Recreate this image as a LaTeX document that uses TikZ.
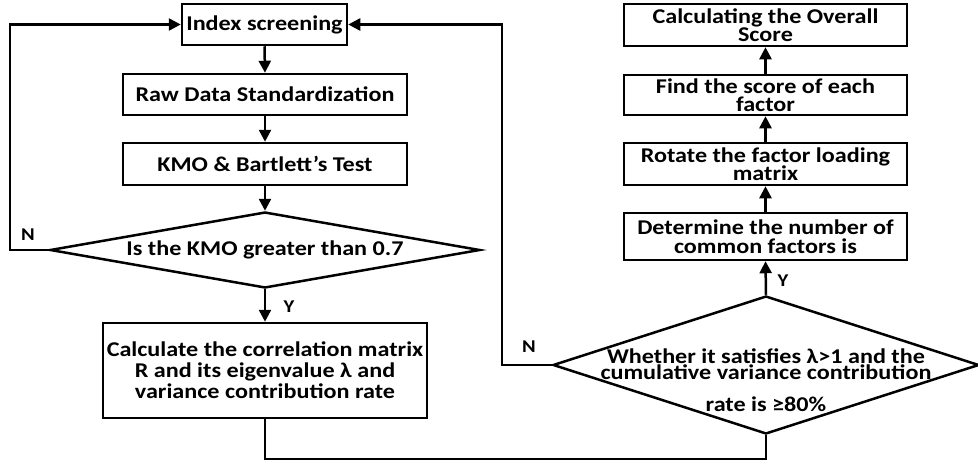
\documentclass[tikz,border=0pt]{standalone}
\usepackage{fontspec}
\setmainfont{Carlito}[FakeStretch=1.15]
\usetikzlibrary{arrows.meta,shapes.geometric}
\tikzset{
  box/.style={draw,line width=2.5pt,rectangle,inner sep=0pt,align=center,font=\bfseries\fontsize{21}{18.5}\selectfont},
  dia/.style={draw,line width=2.5pt,diamond,inner sep=0pt},
  txt/.style={align=center,inner sep=0pt,font=\bfseries\fontsize{21}{15.5}\selectfont},
  lbl/.style={inner sep=0pt,font=\bfseries\fontsize{18}{18}\selectfont},
  flow/.style={line width=2.5pt,-{Triangle[length=12pt,width=12pt]}},
  wire/.style={line width=2.5pt}
}
\begin{document}
\begin{tikzpicture}[x=1pt,y=-1pt]
\useasboundingbox (0,0) rectangle (978,464);
% left column
\node[box,minimum width=165,minimum height=41] (idx) at (264.5,24.5) {Index screening};
\node[box,minimum width=284,minimum height=41] (raw) at (265,94.5) {Raw Data Standardization};
\node[box,minimum width=284,minimum height=42] (kmo) at (265,164) {KMO \& Bartlett{\char"27}s Test};
\node[dia,minimum width=430,minimum height=76] (d1) at (265,250) {};
\node[txt] (d1t) at (265,250) {Is the KMO greater than 0.7};
\node[box,minimum width=324,minimum height=95,font=\bfseries\fontsize{21}{21}\selectfont] (calc) at (265,370.5)
  {Calculate the correlation matrix\\R and its eigenvalue λ and\\variance contribution rate};
% right column
\node[box,minimum width=283,minimum height=42] (tot) at (765.5,25) {Calculating the Overall\\Score};
\node[box,minimum width=283,minimum height=40] (fnd) at (765.5,95) {Find the score of each\\factor};
\node[box,minimum width=283,minimum height=42] (rot) at (765.5,164) {Rotate the factor loading\\matrix};
\node[box,minimum width=283,minimum height=47] (det) at (765.5,236.5) {Determine the number of\\common factors is};
\node[dia,minimum width=426,minimum height=138] (d2) at (766,365) {};
\node[txt] (d2t) at (766,380) {Whether it satisfies λ>1 and the\\cumulative variance contribution\\[16.5pt]rate is ≥80\%};
% connectors
\draw[flow] (idx.south) -- (raw.north);
\draw[flow] (raw.south) -- (kmo.north);
\draw[flow] (kmo.south) -- (d1.north);
\draw[flow] (d1.south) -- (calc.north);
\coordinate (bl) at (265,459);
\coordinate (nl) at (10,250);
\coordinate (nr) at (502,365);
\draw[wire] (calc.south) -- (bl) -| (d2.south);
\draw[flow] (d1.west) -- (nl) |- (idx.west);
\draw[flow] (d2.west) -- (nr) |- (idx.east);
\draw[flow] (d2.north) -- (det.south);
\draw[flow] (det.north) -- (rot.south);
\draw[flow] (rot.north) -- (fnd.south);
\draw[flow] (fnd.north) -- (tot.south);
% labels
\node[lbl] (ln1) at (28,235) {N};
\node[lbl] (ly1) at (289,307) {Y};
\node[lbl] (ln2) at (529,347) {N};
\node[lbl] (ly2) at (783,281) {Y};
\end{tikzpicture}
\end{document}
